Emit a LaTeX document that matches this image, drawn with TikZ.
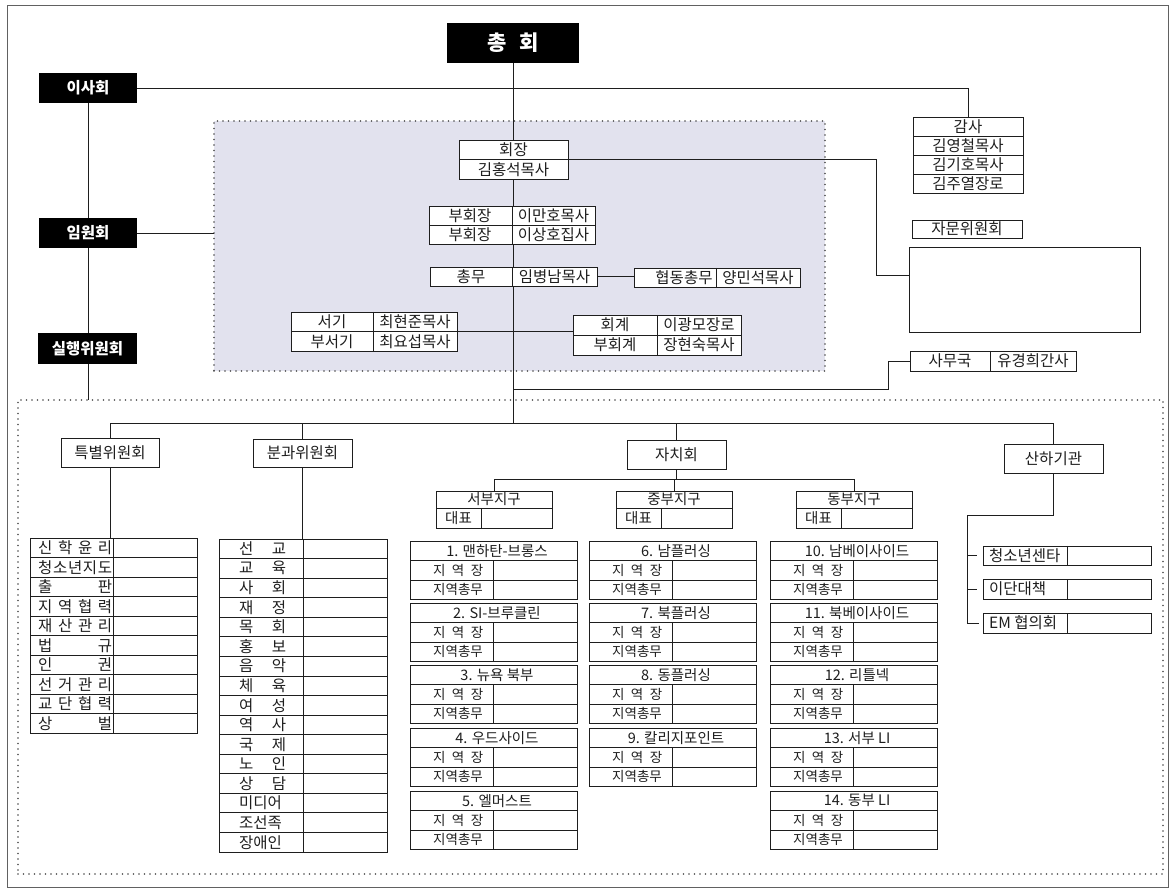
\documentclass[tikz,border=0pt]{standalone}
\usepackage{fontspec}
\setmainfont{Noto Sans CJK KR}
\usetikzlibrary{calc}
\pgfdeclarelayer{shade}
\pgfdeclarelayer{wires}
\pgfsetlayers{shade,wires,main}
\definecolor{lav}{RGB}{226,226,238}
\definecolor{ink}{RGB}{30,30,30}
\newcommand\fs[1]{\fontsize{#1}{#1}\selectfont}
\tikzset{
 ln/.style={draw=ink, line width=0.8pt},
 bx/.style={draw=ink, line width=0.8pt, fill=white, inner sep=0pt, outer sep=0pt},
 blk/.style={fill=black, text=white, inner sep=0pt, outer sep=0pt, font=\fs{15.5}\bfseries},
 tA/.style={inner sep=0pt, text=ink, font=\fs{15.5}},
 tB/.style={inner sep=0pt, text=ink, font=\fs{14.5}},
 tC/.style={inner sep=0pt, text=ink, font=\fs{13.5}},
 dotbox/.style={draw=ink!80, line width=1.6pt, dash pattern=on 0pt off 5.5pt, line cap=round, inner sep=0pt, outer sep=0pt},
}
\newcommand\BX[6][]{%
 \pgfmathsetmacro\bxw{#5-#3}\pgfmathsetmacro\bxh{#6-#4}%
 \node[bx, minimum width=\bxw pt, minimum height=\bxh pt, anchor=north west, #1] (#2) at (#3,#4) {};}
\newcommand\RB[4]{%
 \node[bx, minimum width=167pt, minimum height=58.5pt, anchor=north west] (#1) at (#2,#3) {};
 \draw[ln] ({#2},{#3+19.5}) -- ++(167,0);
 \draw[ln] ({#2},{#3+39}) -- ++(167,0);
 \draw[ln] ({#2+83},{#3+19.5}) -- ({#2+83},{#3+58.5});
 \node[tB] (#1t) at ({#2+87},{#3+9.75}) {#4};
 \node[tC, anchor=west] (#1a) at ({#2+23},{#3+29.25}) {\makebox[50pt][s]{지\hfill 역\hfill 장}};
 \node[tC, anchor=west] (#1b) at ({#2+23},{#3+48.75}) {\makebox[50pt][s]{지역총무}};
}
\begin{document}
\begin{tikzpicture}[x=1pt,y=-1pt]
\useasboundingbox (0,0) rectangle (1171,890);
\begin{pgfonlayer}{shade}
\fill[white] (0,0) rectangle (1171,890);
\draw[draw=ink!70, line width=0.8pt] (7,5) rectangle (1168,887);
\node[dotbox, fill=lav, minimum width=611pt, minimum height=250pt, anchor=north west] (exec) at (214,121) {};
\node[dotbox, minimum width=1145pt, minimum height=474pt, anchor=north west] (lower) at (18,400) {};
\end{pgfonlayer}

% black boxes
\node[blk, minimum width=132pt, minimum height=40pt, anchor=north west, font=\fs{21}\bfseries] (chong) at (447,23) {총\hspace{0.6em}회};
\node[blk, minimum width=98pt, minimum height=30pt, anchor=north west] (isa) at (39,73) {이사회};
\node[blk, minimum width=98pt, minimum height=30pt, anchor=north west] (imwon) at (39,218) {임원회};
\node[blk, minimum width=99pt, minimum height=31pt, anchor=north west] (silh) at (38,333) {실행위원회};

% 회장
\BX{hj}{459}{140}{568}{179}
\draw[ln] (hj.west) -- (hj.east);
\node[tA] (hj1) at (513.5,150) {회장};
\node[tA] (hj2) at (513.5,169.5) {김홍석목사};
% 부회장
\BX{bh}{429}{206}{595}{244}
\draw[ln] (bh.west) -- (bh.east);
\draw[ln] (512,206) -- (512,244);
\node[tA] (bh1) at (470,215.5) {부회장};
\node[tA] (bh2) at (470,234.5) {부회장};
\node[tA] (bh3) at (553.5,215.5) {이만호목사};
\node[tA] (bh4) at (553.5,234.5) {이상호집사};
% 총무
\BX{cm}{430}{267}{597}{286}
\draw[ln] (512,267) -- (512,286);
\node[tA] (cm1) at (471,276.5) {총무};
\node[tA] (cm2) at (554.5,276.5) {임병남목사};
% 협동총무
\BX{hd}{634}{268}{800}{287}
\draw[ln] (716,268) -- (716,287);
\node[tA] (hd1) at (684,277.5) {협동총무};
\node[tA] (hd2) at (758,277.5) {양민석목사};
% 서기
\BX{sg}{291}{312}{457}{351}
\draw[ln] (sg.west) -- (sg.east);
\draw[ln] (373,312) -- (373,351);
\node[tA] (sg1) at (332,322) {서기};
\node[tA] (sg2) at (332,341.5) {부서기};
\node[tA] (sg3) at (415,322) {최현준목사};
\node[tA] (sg4) at (415,341.5) {최요섭목사};
% 회계
\BX{hg}{573}{315}{741}{355}
\draw[ln] (hg.west) -- (hg.east);
\draw[ln] (657,315) -- (657,355);
\node[tA] (hg1) at (615,325) {회계};
\node[tA] (hg2) at (615,345) {부회계};
\node[tA] (hg3) at (699,325) {이광모장로};
\node[tA] (hg4) at (699,345) {장현숙목사};
% 감사
\BX{gs}{913}{117}{1023}{193}
\foreach \yy in {136,155,174} \draw[ln] (913,\yy) -- (1023,\yy);
\node[tA] (gs1) at (968,126.5) {감사};
\node[tA] (gs2) at (968,145.5) {김영철목사};
\node[tA] (gs3) at (968,164.5) {김기호목사};
\node[tA] (gs4) at (968,183.5) {김주열장로};
% 자문위원회
\BX{jm}{912}{220}{1022}{238}
\node[tA] (jm1) at (967,229) {자문위원회};
\BX{jbig}{909}{247}{1140}{332}
% 사무국
\BX{smk}{910}{351}{1076}{371}
\draw[ln] (990,351) -- (990,371);
\node[tA] (smk1) at (950,361) {사무국};
\node[tA] (smk2) at (1033,361) {유경희간사};

% lower level
\BX{tb}{61}{438}{159}{467}
\node[tA] (tb1) at (110,452.5) {특별위원회};
\BX{bg}{253}{439}{352}{467}
\node[tA] (bg1) at (302.5,453) {분과위원회};
\BX{jc}{627}{440}{726}{469}
\node[tA] (jc1) at (676.5,454.5) {자치회};
\BX{sh}{1004}{444}{1103}{473}
\node[tA] (sh1) at (1053.5,458.5) {산하기관};

% 특별위원회 table
\BX{tbt}{30}{538}{197}{733}
\foreach \i in {1,...,9} \draw[ln] (30,{538+19.5*\i}) -- (197,{538+19.5*\i});
\draw[ln] (113,538) -- (113,733);
\foreach \lab [count=\i] in {{신\hfill 학\hfill 윤\hfill 리},{청\hfill 소\hfill 년\hfill 지\hfill 도},{출\hfill 판},{지\hfill 역\hfill 협\hfill 력},{재\hfill 산\hfill 관\hfill 리},{법\hfill 규},{인\hfill 권},{선\hfill 거\hfill 관\hfill 리},{교\hfill 단\hfill 협\hfill 력},{상\hfill 벌}}
  \node[tA, anchor=west] (tbl\i) at (38,{538+19.5*\i-9.75}) {\makebox[74pt][s]{\lab}};

% 분과위원회 table
\BX{bgt}{219}{539}{387}{852}
\foreach \i in {1,...,15} \draw[ln] (219,{539+19.5625*\i}) -- (387,{539+19.5625*\i});
\draw[ln] (303,539) -- (303,852);
\foreach \lab [count=\i] in {{선\hfill 교},{교\hfill 육},{사\hfill 회},{재\hfill 정},{목\hfill 회},{홍\hfill 보},{음\hfill 악},{체\hfill 육},{여\hfill 성},{역\hfill 사},{국\hfill 제},{노\hfill 인},{상\hfill 담},{미디어},{조선족},{장애인}}
  \node[tA, anchor=west] (bgl\i) at (239,{539+19.5625*\i-9.78}) {\makebox[47pt][s]{\lab}};

% districts
\BX{sb}{436}{491}{552}{528}
\draw[ln] (436,508) -- (552,508);
\draw[ln] (481,508) -- (481,528);
\node[tB] (sb1) at (494,499.5) {서부지구};
\node[tB] (sb2) at (458.5,518) {대표};
\BX{jb}{616}{491}{732}{528}
\draw[ln] (616,508) -- (732,508);
\draw[ln] (661,508) -- (661,528);
\node[tB] (jb1) at (674,499.5) {중부지구};
\node[tB] (jb2) at (638.5,518) {대표};
\BX{db}{796}{491}{912}{528}
\draw[ln] (796,508) -- (912,508);
\draw[ln] (841,508) -- (841,528);
\node[tB] (db1) at (854,499.5) {동부지구};
\node[tB] (db2) at (818.5,518) {대표};

% region blocks
\RB{ra}{410}{541}{1. 맨하탄-브롱스}
\RB{rb}{410}{603}{2. SI-브루클린}
\RB{rc}{410}{665}{3. 뉴욕 북부}
\RB{rd}{410}{728}{4. 우드사이드}
\RB{re}{410}{791}{5. 엘머스트}
\RB{rf}{589}{541}{6. 남플러싱}
\RB{rg}{589}{603}{7. 북플러싱}
\RB{rh}{589}{665}{8. 동플러싱}
\RB{ri}{589}{728}{9. 칼리지포인트}
\RB{rj}{770}{541}{10. 남베이사이드}
\RB{rk}{770}{603}{11. 북베이사이드}
\RB{rl}{770}{665}{12. 리틀넥}
\RB{rm}{770}{728}{13. 서부 LI}
\RB{rn}{770}{791}{14. 동부 LI}

% 산하기관 sub boxes
\BX{sa}{983}{546}{1151}{565}
\draw[ln] (1067,546) -- (1067,565);
\node[tA, anchor=west] (sa1) at (989,555.5) {청소년센타};
\BX{sbx}{983}{579}{1151}{599}
\draw[ln] (1067,579) -- (1067,599);
\node[tA, anchor=west] (sbx1) at (989,589) {이단대책};
\BX{sc}{983}{613}{1151}{633}
\draw[ln] (1067,613) -- (1067,633);
\node[tA, anchor=west] (sc1) at (989,623) {EM 협의회};

% connectors
\begin{pgfonlayer}{wires}
\coordinate (bus) at (513,423);
\coordinate (jx) at (876,275);
\coordinate (smkA) at (513,389);
\coordinate (smkB) at (888,389);
\coordinate (jbus) at (667,479);
\coordinate (sbus) at (967,515);
\draw[ln] (isa.south) -- (isa.south |- lower.north);
\draw[ln] (isa.east) -| (gs.north);
\draw[ln] (imwon.east) -- (imwon.east -| exec.west);
\draw[ln] (chong.south) -- (chong.south |- bus);
\draw[ln] (hj.east) -| (jx) -- (jx -| jbig.west);
\draw[ln] (cm.east) -- (cm.east -| hd.west);
\draw[ln] (sg.east) -- (sg.east -| hg.west);
\draw[ln] (smkA) -- (smkB) |- (smk.west);
\draw[ln] (tb.north) -- (tb.north |- bus) -- (sh.north |- bus) -- (sh.north);
\draw[ln] (bg.north) -- (bg.north |- bus);
\draw[ln] (jc.north) -- (jc.north |- bus);
\draw[ln] (tb.south) -- (tb.south |- tbt.north);
\draw[ln] (bg.south) -- (bg.south |- bgt.north);
\draw[ln] (jc.south) -- (jc.south |- jbus);
\draw[ln] (sb.north) -- (sb.north |- jbus) -- (db.north |- jbus) -- (db.north);
\draw[ln] (jb.north) -- (jb.north |- jbus);
\draw[ln] (sh.south) -- (sh.south |- sbus) -- (sbus) -- (sbus |- sc.west) -- ([xshift=-4pt]sc.west);
\draw[ln] (sbus |- sa.west) -- ([xshift=-6pt]sa.west);
\draw[ln] (sbus |- sbx.west) -- ([xshift=-6pt]sbx.west);
\end{pgfonlayer}
\end{tikzpicture}
\end{document}
